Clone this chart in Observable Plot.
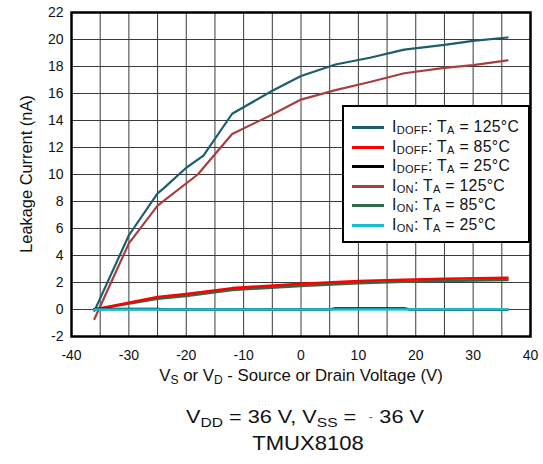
<!DOCTYPE html>
<html>
<head>
<meta charset="utf-8">
<script src="https://cdn.jsdelivr.net/npm/d3@7"></script>
<script src="https://cdn.jsdelivr.net/npm/@observablehq/plot@0.6"></script>
<style>
  body { margin: 0; background: #fff; font-family: "Liberation Sans", Arial, sans-serif; }
  #wrap { position: relative; width: 543px; height: 464px; }
  .ov { position: absolute; color: #111; white-space: nowrap; transform-origin: 50% 50%; }
  sub { font-size: 0.72em; vertical-align: -0.28em; line-height: 0; }
  #legend { position: absolute; left: 342px; top: 105px; width: 184px; height: 134px; border: 2px solid #000; background: #fff; box-sizing: content-box; }
  .row { position: absolute; left: 0; height: 19px; font-size: 15.8px; letter-spacing: 0.3px; }
  .row sub { font-size: 0.7em; vertical-align: -0.2em; }
  .sw { position: absolute; left: 8px; width: 32px; height: 0; border-top: 3px solid; top: 9px; }
  .lt { position: absolute; left: 48px; top: 0; height: 19px; line-height: 19px; color: #111; }
</style>
</head>
<body>
<div id="wrap"></div>
<script>
// ---- data ----
const seriesNames = ["IDOFF 125", "IDOFF 85", "IDOFF 25", "ION 125", "ION 85", "ION 25"];
const seriesColors = ["#1d5e6c", "#ff0000", "#000000", "#a83e40", "#2f6b4a", "#17bfd0"];

const vIdoff125 = [-36, -30, -25, -24, -20, -17, -12, -5, 0, 6, 12, 18, 25, 30, 36];
const iIdoff125 = [-0.1, 5.5, 8.6, 8.95, 10.5, 11.4, 14.5, 16.2, 17.3, 18.15, 18.65, 19.25, 19.6, 19.9, 20.15];

const vIon125 = [-36, -30, -25, -18, -12, -5, 0, 6, 12, 18, 25, 30, 36];
const iIon125 = [-0.7, 4.9, 7.7, 10.0, 13.0, 14.45, 15.55, 16.25, 16.85, 17.5, 17.9, 18.1, 18.45];

const vIdoff85 = [-36, -25, -20, -12, 0, 10, 18, 25, 36];
const iIdoff85 = [0, 0.92, 1.15, 1.58, 1.9, 2.1, 2.2, 2.28, 2.35];

const vIon85 = [-36, -25, -20, -12, 0, 10, 18, 25, 36];
const iIon85 = [0, 0.8, 1.0, 1.45, 1.75, 1.95, 2.05, 2.12, 2.18];

const vIdoff25 = [-36, -25, -24, 5, 6, 18, 19, 36];
const iIdoff25 = [0.04, 0.04, 0, 0, 0.08, 0.08, 0, 0];

const vIon25 = [-36, 0, 36];
const iIon25 = [0, 0, 0.02];

const xTicks = [-40, -30, -20, -10, 0, 10, 20, 30, 40];
const yTicks = [-2, 0, 2, 4, 6, 8, 10, 12, 14, 16, 18, 20, 22];
const xGrid = [-35, -30, -25, -20, -15, -10, -5, 0, 5, 10, 15, 20, 25, 30, 35];
const yGrid = [0, 2, 4, 6, 8, 10, 12, 14, 16, 18, 20];

// ---- build table ----
function toRows(name, vs, is) { return vs.map((v, k) => ({ s: name, v, i: is[k] })); }
const drawOrder = [
  ["ION 125", vIon125, iIon125],
  ["IDOFF 125", vIdoff125, iIdoff125],
  ["ION 85", vIon85, iIon85],
  ["IDOFF 85", vIdoff85, iIdoff85],
  ["IDOFF 25", vIdoff25, iIdoff25],
  ["ION 25", vIon25, iIon25]
];
const colorOf = Object.fromEntries(seriesNames.map((n, k) => [n, seriesColors[k]]));
const widthOf = { "ION 125": 2.2, "IDOFF 125": 2.2, "ION 85": 2.6, "IDOFF 85": 2.6, "IDOFF 25": 2.4, "ION 25": 2.6 };
const fmt = d => String(d);

const marks = [
  Plot.gridX(xGrid, { stroke: "#3a3a3a", strokeOpacity: 1, strokeWidth: 1 }),
  Plot.gridY(yGrid, { stroke: "#3a3a3a", strokeOpacity: 1, strokeWidth: 1 }),
  Plot.axisX(xTicks, { tickSize: 0, tickPadding: 14, label: null, fontSize: 14, tickFormat: fmt }),
  Plot.axisY(yTicks, { tickSize: 0, tickPadding: 8, label: null, fontSize: 14, tickFormat: fmt })
];
for (const [name, vs, is] of drawOrder) {
  marks.push(Plot.line(toRows(name, vs, is), { x: "v", y: "i", stroke: colorOf[name], strokeWidth: widthOf[name], strokeLinejoin: "round" }));
}
marks.push(Plot.frame({ stroke: "#000", strokeWidth: 2.5 }));

const chart = Plot.plot({
  width: 543,
  height: 392,
  marginLeft: 71,
  marginRight: 13,
  marginTop: 12,
  marginBottom: 56,
  x: { domain: [-40, 40] },
  y: { domain: [-2, 22] },
  style: { fontFamily: "'Liberation Sans', Arial, sans-serif", color: "#111", background: "#fff" },
  marks
});
const wrap = document.getElementById("wrap");
wrap.appendChild(chart);

function ov(html, css) {
  const d = document.createElement("div");
  d.className = "ov";
  d.innerHTML = html;
  Object.assign(d.style, css);
  wrap.appendChild(d);
  return d;
}
// axis titles
ov("V<sub>S</sub> or V<sub>D</sub> - Source or Drain Voltage (V)", { left: "301px", top: "366px", fontSize: "16.8px", transform: "translateX(-50%)" });
ov("Leakage Current (nA)", { left: "26px", top: "174px", fontSize: "16.4px", transform: "translate(-50%,-50%) rotate(-90deg)" });
// caption
ov("V<sub>DD</sub> = 36 V, V<sub>SS</sub> = &nbsp;<span style='color:#777;font-size:0.7em;vertical-align:0.15em'>-</span> 36 V", { left: "305px", top: "406px", fontSize: "19px", transform: "translateX(-50%) scaleX(1.14)" });
ov("TMUX8108", { left: "308px", top: "431px", fontSize: "21px", transform: "translateX(-50%) scaleX(1.05)" });

// legend
const legendLabels = [
  "I<sub>DOFF</sub>: T<sub>A</sub> = 125°C",
  "I<sub>DOFF</sub>: T<sub>A</sub> = 85°C",
  "I<sub>DOFF</sub>: T<sub>A</sub> = 25°C",
  "I<sub>ON</sub>: T<sub>A</sub> = 125°C",
  "I<sub>ON</sub>: T<sub>A</sub> = 85°C",
  "I<sub>ON</sub>: T<sub>A</sub> = 25°C"
];
const lg = document.createElement("div");
lg.id = "legend";
wrap.appendChild(lg);
legendLabels.forEach((t, k) => {
  const r = document.createElement("div");
  r.className = "row";
  r.style.top = (10 + k * 19.6) + "px";
  r.style.width = "184px";
  r.innerHTML = `<div class="sw" style="border-color:${seriesColors[k]}"></div><div class="lt">${t}</div>`;
  lg.appendChild(r);
});
</script>
</body>
</html>
